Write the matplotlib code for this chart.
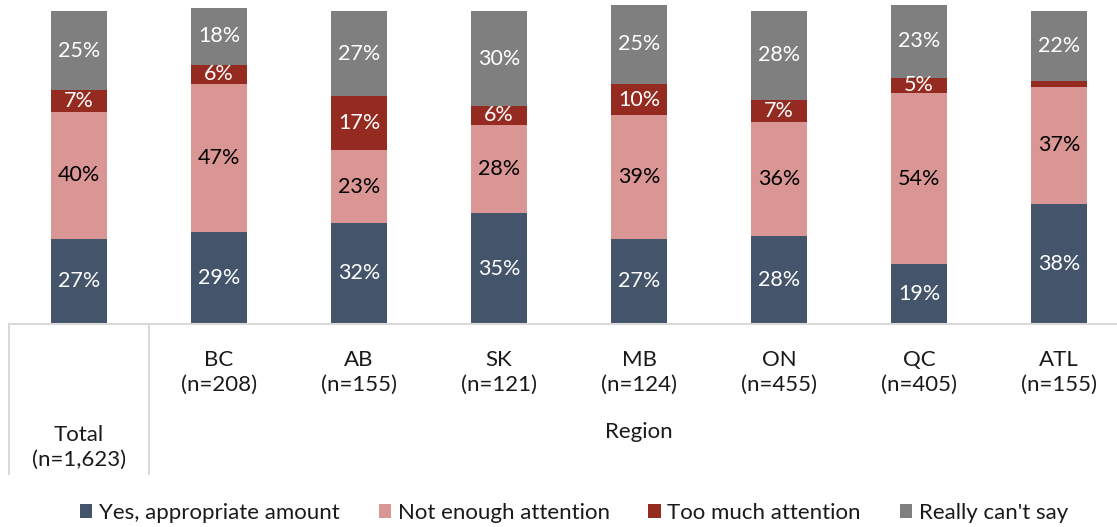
import matplotlib.pyplot as plt
from matplotlib.patches import Patch

# datos
regiones = ["Total", "BC", "AB", "SK", "MB", "ON", "QC", "ATL"]
muestras = ["1,623", "208", "155", "121", "124", "455", "405", "155"]

si_apropiado = [27, 29, 32, 35, 27, 28, 19, 38]
no_suficiente = [40, 47, 23, 28, 39, 36, 54, 37]
demasiada = [7, 6, 17, 6, 10, 7, 5, 2]
no_sabe = [25, 18, 27, 30, 25, 28, 23, 22]

series = ["Yes, appropriate amount", "Not enough attention",
          "Too much attention", "Really can't say"]
colores = ["#44546A", "#DA9694", "#952A20", "#7F7F7F"]
color_texto = ["white", "black", "white", "white"]

plt.rcParams['font.family'] = ['Lato', 'DejaVu Sans']

W, H = 1117, 527
fig = plt.figure(figsize=(W / 100, H / 100), dpi=100)
# eje: base en y=324 px, 100% en y=8 px, cada categoria 140 px desde x=9
ax = fig.add_axes([9 / W, (H - 324) / H, 1120 / W, 316 / H])

x = list(range(len(regiones)))
base = [0] * len(regiones)
valores = [si_apropiado, no_suficiente, demasiada, no_sabe]
for vals, col, tc in zip(valores, colores, color_texto):
    barras = ax.bar(x, vals, bottom=base, width=0.4, color=col, clip_on=False)
    for i, b in enumerate(barras):
        if vals[i] >= 3:
            ax.text(b.get_x() + b.get_width() / 2, base[i] + vals[i] / 2,
                    f"{vals[i]}%", ha="center", va="center", color=tc, fontsize=15.5)
    base = [a + v for a, v in zip(base, vals)]

ax.set_xlim(-0.5, len(regiones) - 0.5)
ax.set_ylim(0, 100)
ax.set_xticks([])
ax.set_yticks([])
for s in ["top", "left", "right"]:
    ax.spines[s].set_visible(False)
ax.spines["bottom"].set_color("#D9D9D9")
ax.spines["bottom"].set_linewidth(1.5)

# tabla de categorias debajo del eje
trans = ax.get_xaxis_transform()
ax.vlines([-0.5, 0.5], -0.478, 0, transform=trans, color="#D9D9D9",
          linewidth=1.5, clip_on=False)
for i in x[1:]:
    ax.text(i, -0.152, f"{regiones[i]}\n(n={muestras[i]})", transform=trans,
            ha="center", va="center", fontsize=16, linespacing=1.3, color="#1a1a1a")
ax.text(0, -0.391, f"{regiones[0]}\n(n={muestras[0]})", transform=trans,
        ha="center", va="center", fontsize=16, linespacing=1.3, color="#1a1a1a")
ax.text(4, -0.342, "Region", transform=trans, ha="center", va="center",
        fontsize=16, color="#1a1a1a")

handles = [Patch(facecolor=c, edgecolor="none") for c in colores]
fig.legend(handles, series, loc="center", bbox_to_anchor=(574 / W, 14 / H),
           ncol=4, frameon=False, fontsize=16, handlelength=0.55, handleheight=0.55,
           handletextpad=0.3, columnspacing=1.75, labelcolor="#1a1a1a")

fig.savefig("out.png", dpi=100)
